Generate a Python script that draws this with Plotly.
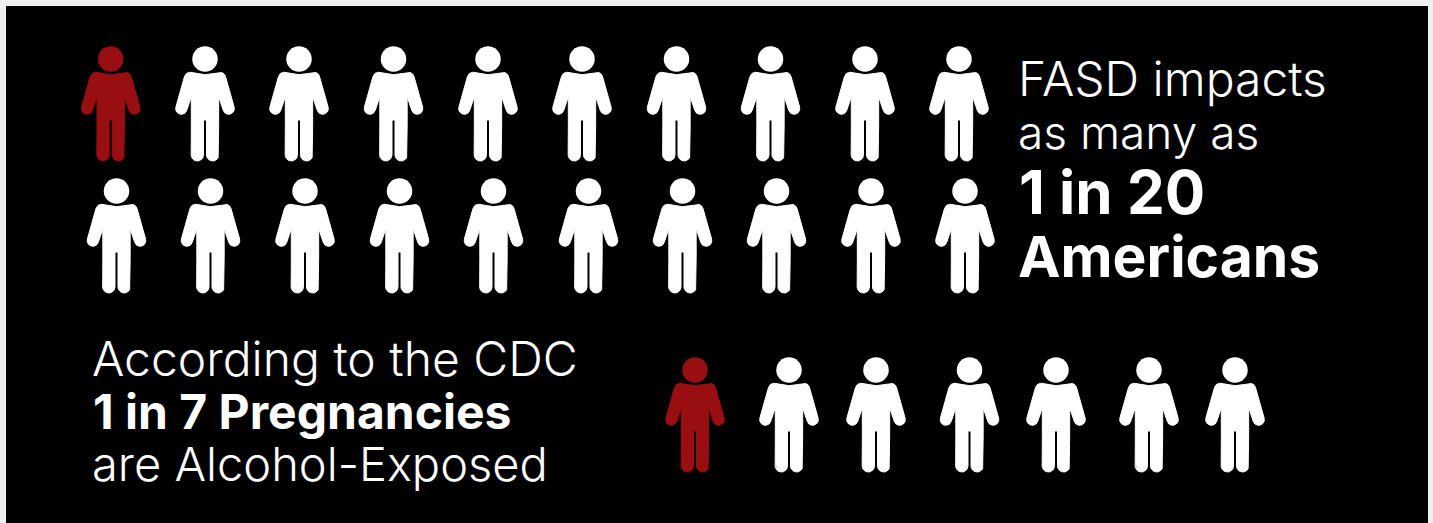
import numpy as np
import plotly.graph_objects as go

# ---- data ----
row_labels = ["FASD row 1", "FASD row 2", "Pregnancy row"]
people_in_row = [10, 10, 7]
highlighted_in_row = [1, 0, 1]
text_top = ["FASD impacts", "as many as", "1 in 20", "Americans"]
text_bottom = ["According to the CDC", "1 in 7 Pregnancies", "are Alcohol-Exposed"]

# ---- placement ----
W, H = 1433, 523
ROW_Y = [59, 191, 370]
ROW_X = [
    [110.7, 205, 299, 393.5, 488, 582, 676.5, 770.5, 865, 959],
    [116.5, 210.5, 305, 399.5, 493.5, 588.5, 682.5, 776.5, 871, 965],
    [695, 789, 876, 969.5, 1056, 1149, 1235],
]
RED = "#990e11"
WHITE = "#ffffff"
FONT = "Inter"


def rounded(points):
    """Polyline through (x, y, r) corners; each corner rounded by a quadratic curve."""
    out = []
    n = len(points)
    for i, (x, y, r) in enumerate(points):
        p = np.array([x, y], float)
        if r == 0 or i == 0 or i == n - 1:
            out.append(p)
            continue
        a = np.array(points[i - 1][:2], float)
        b = np.array(points[i + 1][:2], float)
        ua = (a - p) / np.linalg.norm(a - p)
        ub = (b - p) / np.linalg.norm(b - p)
        for t in np.linspace(0, 1, 10):
            out.append((1 - t) ** 2 * (p + ua * r) + 2 * t * (1 - t) * p + t ** 2 * (p + ub * r))
    return np.array(out)


def glyph():
    # right half of the figure, relative to the head centre, at 3x scale
    hand = np.array([71.0, 149.0])
    hr = 17.0
    ang = np.radians(np.linspace(-16, 164, 20))
    arc = [(hand[0] + hr * np.cos(t), hand[1] + hr * np.sin(t), 0) for t in ang]
    foot = [(23.0 + 18.5 * np.cos(t), 287.5 + 18.5 * np.sin(t), 0) for t in np.radians(np.linspace(0, 180, 14))]
    upper = rounded([(0, 47, 0), (22, 44, 8), (40, 40, 5), (58, 40, 14), (arc[0][0], arc[0][1], 0)])
    lower = rounded([(arc[-1][0], arc[-1][1], 0), (41, 113, 3), (41, 200, 0)])
    leg_in = [(4.5, 183, 0)]
    right = np.vstack([
        upper,
        np.array(arc)[:, :2],
        lower,
        np.array(foot)[:, :2],
        np.array(leg_in)[:, :2],
    ])
    right = np.vstack([right, [[0, 183]]])
    left = right[::-1] * [-1, 1]
    return np.vstack([right, left]) / 3.0


G = glyph()
fig = go.Figure()
for r, label in enumerate(row_labels):
    for i in range(people_in_row[r]):
        color = RED if i < highlighted_in_row[r] else WHITE
        cx, cy = ROW_X[r][i], ROW_Y[r]
        fig.add_trace(go.Scatter(
            x=cx + G[:, 0], y=cy + G[:, 1], mode="lines", fill="toself",
            fillcolor=color, line=dict(color=color, width=1),
            hoverinfo="skip", showlegend=False, name=label,
        ))
        fig.add_trace(go.Scatter(
            x=[cx], y=[cy], mode="markers",
            marker=dict(color=color, size=25.5, line=dict(width=0)),
            hoverinfo="skip", showlegend=False, name=label,
        ))

top_specs = [(1018, 78, 48, 300), (1018, 132, 46, 300), (1019, 192, 60, 700), (1018, 256, 57, 700)]
bottom_specs = [(92, 358, 48, 300), (93, 411, 48, 700), (92, 463, 47, 300)]
for txt, (x, y, size, wt) in zip(text_top + text_bottom, top_specs + bottom_specs):
    fig.add_annotation(
        x=x, y=y, text=txt, showarrow=False, xanchor="left", yanchor="middle",
        borderpad=0, borderwidth=0,
        font=dict(family=FONT, size=size, color=WHITE, weight=wt),
    )

fig.update_layout(
    width=W, height=H, autosize=False,
    margin=dict(l=6, r=5, t=6, b=0, pad=0),
    paper_bgcolor="#eeeeee", plot_bgcolor="#000000",
    showlegend=False,
    xaxis=dict(range=[6, 1428], visible=False, fixedrange=True),
    yaxis=dict(range=[523, 6], visible=False, fixedrange=True),
)
fig.write_html("out.html", config={"displayModeBar": False},
               post_script="document.body.style.margin='0';document.body.style.background='#eeeeee';")
